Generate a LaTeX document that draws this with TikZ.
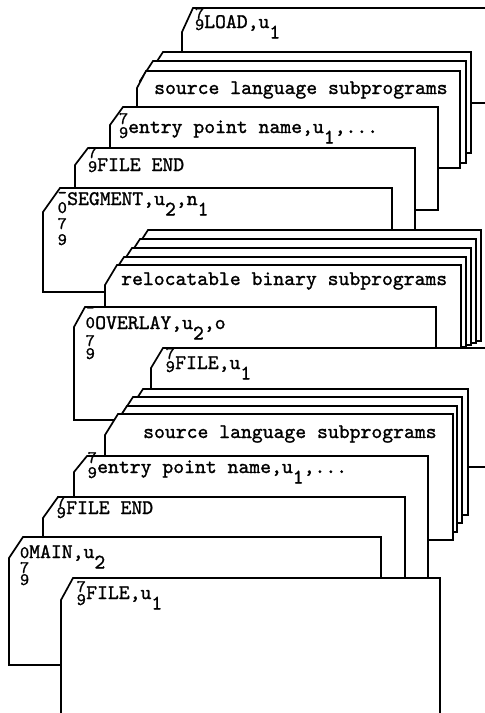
\documentclass[tikz,border=0pt]{standalone}
\usepackage{fontspec}
\newfontfamily\typew{lmmono10-regular.otf}[FakeBold=1.2]
\newcommand\dn[1]{\raisebox{-10.5pt}{#1}}
\newcommand\deckcard[6]{\draw[card] (#1,#4) -- (#1,#2+#6) -- (#1+#5,#2) -- (#3,#2) -- (#3,#4) -- cycle;}
\begin{document}
\begin{tikzpicture}[x=1pt,y=-1pt,
  card/.style={draw=black, fill=white, line width=1.7pt, line join=miter},
  txt/.style={font=\fontsize{20.7}{24}\selectfont\typew, inner sep=0pt, anchor=base west},
  dig/.style={font=\fontsize{17.5}{18}\selectfont\typew, inner sep=0pt, anchor=base west}]
\useasboundingbox (0,0) rectangle (485,713);
\clip (0,0) rectangle (485,713);
% ---- first file: LOAD group
\deckcard{182}{8}{530}{103}{11}{24}
\node[dig] (la) at (194.8,19) {7};
\node[dig] (lb) at (194.8,30) {9};
\node[txt] (lt) at (204,28) {LOAD,u\dn{1}};
\deckcard{150}{52}{471}{153}{13}{20}
\deckcard{140}{61}{466}{163}{13}{20}
\deckcard{137}{71}{460}{168}{9}{17}
\node[txt] (us) at (154,94) {source language subprograms};
\deckcard{110}{107}{438}{210}{13}{18}
\node[dig] (uea) at (118.8,124) {7};
\node[dig] (ueb) at (118.8,138) {9};
\node[txt] (uet) at (128,133) {entry point name,u\dn{1},...};
\deckcard{75}{148}{415}{260}{13}{17}
\node[dig] (ufa) at (87.8,158) {7};
\node[dig] (ufb) at (87.8,172) {9};
\node[txt] (uft) at (97,171) {FILE END};
% ---- SEGMENT card
\deckcard{43}{188}{392}{292}{17}{24}
\node[dig] (sm) at (57.5,198) {-};
\node[dig] (s0) at (57.5,213) {0};
\node[dig] (s7) at (57.5,229) {7};
\node[dig] (s9) at (57.5,245) {9};
\node[txt] (st) at (67,205) {SEGMENT,u\dn{2},n\dn{1}};
% ---- relocatable binary stack
\deckcard{135}{230}{481}{341}{13}{20}
\deckcard{127}{239}{476}{343}{13}{20}
\deckcard{119}{248}{471}{345}{13}{20}
\deckcard{111}{257}{466}{347}{13}{20}
\deckcard{105}{265}{461}{360}{12}{20}
\node[txt] (rt) at (121,285) {relocatable binary subprograms};
% ---- OVERLAY card
\deckcard{74}{307}{436}{420}{11}{20}
\node[dig] (om) at (85.5,313) {-};
\node[dig] (o0) at (85.5,328) {0};
\node[dig] (o7) at (85.5,346) {7};
\node[dig] (o9) at (85.5,359) {9};
\node[txt] (ot) at (95,329) {OVERLAY,u\dn{2},o};
% ---- second file group
\deckcard{151}{348}{530}{467}{12}{20}
\node[dig] (fa) at (165.5,359) {7};
\node[dig] (fb) at (165.5,372) {9};
\node[txt] (ft) at (175,369) {FILE,u\dn{1}};
\deckcard{130}{389}{468}{515}{13}{20}
\deckcard{120}{397}{462}{523}{13}{20}
\deckcard{114}{406}{457}{532}{13}{20}
\deckcard{105}{414}{453}{540}{13}{21}
\node[txt] (ls) at (143,438) {source language subprograms};
\deckcard{74}{456}{428}{600}{13}{16}
\node[dig] (lea) at (87.5,463) {7};
\node[dig] (leb) at (87.5,478) {9};
\node[txt] (let) at (97,473) {entry point name,u\dn{1},...};
\deckcard{43}{497}{405}{600}{15}{21}
\node[dig] (lfa) at (56.5,507) {7};
\node[dig] (lfb) at (56.5,518) {9};
\node[txt] (lft) at (66,514) {FILE END};
% ---- MAIN card
\deckcard{9}{537}{381}{665}{14}{21}
\node[dig] (m0) at (19.8,558) {0};
\node[dig] (m7) at (19.8,573) {7};
\node[dig] (m9) at (19.8,585) {9};
\node[txt] (mt) at (29,558) {MAIN,u\dn{2}};
% ---- front FILE card
\deckcard{61}{578}{440}{760}{12}{22}
\node[dig] (ffa) at (76.5,592) {7};
\node[dig] (ffb) at (76.5,605) {9};
\node[txt] (fft) at (86,599) {FILE,u\dn{1}};
\end{tikzpicture}
\end{document}
